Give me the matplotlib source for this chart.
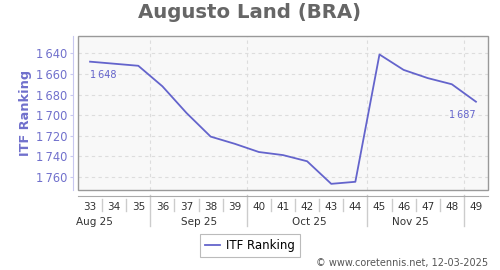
import matplotlib
matplotlib.use("Agg")
import matplotlib.pyplot as plt
import matplotlib.transforms as mtransforms
from matplotlib.patches import Rectangle

weeks = [33, 34, 35, 36, 37, 38, 39, 40, 41, 42, 43, 44, 45, 46, 47, 48, 49]
ranking = [1648, 1650, 1652, 1672, 1698, 1721, 1728, 1736, 1739, 1745, 1767, 1765,
           1641, 1656, 1664, 1670, 1687]
months = ["Aug 25", "Sep 25", "Oct 25", "Nov 25"]
month_pos = [0.2, 4.5, 9.1, 13.3]
month_breaks = [2.5, 6.5, 11.5, 15.5]
yticks = [1640, 1660, 1680, 1700, 1720, 1740, 1760]

line_col = "#6464cc"
W, H = 500, 270

fig = plt.figure(figsize=(5, 2.7), dpi=100)
left, right, top, bottom = 78, 488, 36, 190
ax = fig.add_axes([left / W, 1 - bottom / H, (right - left) / W, (bottom - top) / H])
ax.set_facecolor("#f8f8f8")

x = list(range(len(weeks)))
ax.plot(x, ranking, color=line_col, lw=1.3, label="ITF Ranking", zorder=3)

ax.set_xlim(-0.5, len(weeks) - 0.5)
ax.set_ylim(1773, 1623)

def fmt(v):
    return f"{v:,}".replace(",", "\u2009")

ax.set_yticks(yticks)
ax.set_yticklabels([fmt(v) for v in yticks])
ax.tick_params(axis="y", length=2.5, width=0.8, color="#c8c8f0", pad=1.5,
               labelsize=8.3, labelcolor="#7070cc")
ax.set_ylabel("ITF Ranking", color="#7070cc", fontsize=9.3, fontweight="bold", labelpad=3)

ax.set_xticks(x)
ax.set_xticklabels([str(w) for w in weeks])
ax.tick_params(axis="x", length=0, pad=5, labelsize=7.5, labelcolor="#333333")

for s in ["top", "right"]:
    ax.spines[s].set_visible(False)
ax.spines["left"].set_position(("outward", 3.6))
ax.spines["left"].set_color("#c8c8f0")
ax.spines["bottom"].set_position(("outward", 4))
ax.spines["bottom"].set_color("#aaaaaa")

ax.add_patch(Rectangle((0, 0), 1, 1, transform=ax.transAxes, fill=False,
                       edgecolor="#999999", lw=1.0, zorder=4, clip_on=False))

for v in yticks:
    ax.axhline(v, color="#dddddd", lw=0.8, ls=(0, (3, 3)), zorder=1)
for b in month_breaks:
    ax.axvline(b, color="#dddddd", lw=0.8, ls=(0, (3, 3)), zorder=1)

trans = mtransforms.blended_transform_factory(ax.transData, ax.transAxes)
for i in range(len(weeks) - 1):
    p = i + 0.5
    if p in month_breaks:
        ax.plot([p, p], [-0.03, -0.235], color="#cccccc", lw=1, transform=trans, clip_on=False)
    else:
        ax.plot([p, p], [-0.058, -0.136], color="#cccccc", lw=1, transform=trans, clip_on=False)
for m, p in zip(months, month_pos):
    ax.text(p, -0.205, m, transform=trans, ha="center", va="center", fontsize=7.5, color="#333333")

ax.annotate(fmt(ranking[0]), (x[0], ranking[0]), xytext=(0, -6), textcoords="offset points",
            ha="left", va="top", fontsize=7, color=line_col)
ax.annotate(fmt(ranking[-1]), (x[-1], ranking[-1]), xytext=(0, -6), textcoords="offset points",
            ha="right", va="top", fontsize=7, color=line_col)

fig.text(0.5, 1 - 13 / H, "Augusto Land (BRA)", ha="center", va="center",
         fontsize=14.2, fontweight="bold", color="#666666")

leg = fig.legend(loc="center", bbox_to_anchor=(250 / W, 1 - 245.5 / H), fontsize=8.5,
                 frameon=True, fancybox=False, edgecolor="#aaaaaa", handlelength=1.3,
                 handletextpad=0.5, borderpad=0.4, borderaxespad=0)
leg.get_frame().set_linewidth(0.8)

fig.text(488 / W, 1 - 263 / H, "\u00a9 www.coretennis.net, 12-03-2025", ha="right", va="center",
         fontsize=7, color="#555555")

fig.savefig("out.png", dpi=100)
